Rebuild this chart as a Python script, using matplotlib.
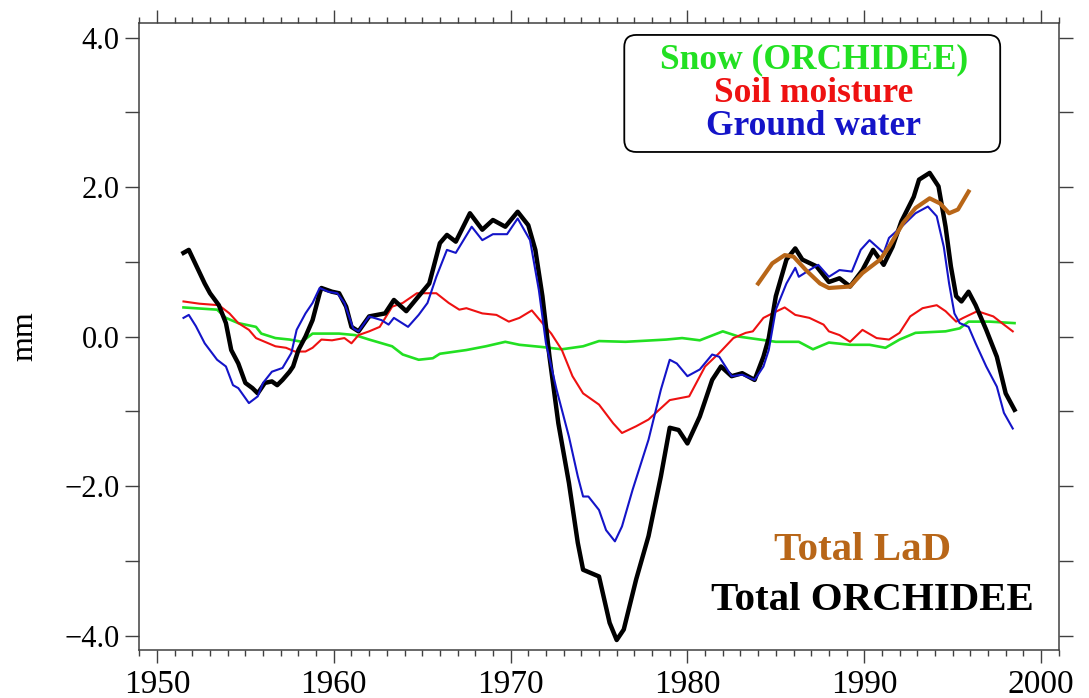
import matplotlib
matplotlib.use("Agg")
import matplotlib.pyplot as plt
from matplotlib.patches import FancyBboxPatch
from matplotlib.transforms import IdentityTransform
from matplotlib.ticker import MultipleLocator, FixedLocator

plt.rcParams['font.family'] = ['Liberation Serif', 'DejaVu Serif']
plt.rcParams['axes.unicode_minus'] = True

# ---------------- data ----------------
total_orchidee_year = [1951.5, 1951.8, 1952.7, 1953.0, 1953.5, 1953.9, 1954.2, 1954.6, 1955.0, 1955.4,
                       1955.7, 1956.1, 1956.5, 1956.8, 1957.1, 1957.5, 1957.7, 1958.0, 1958.4, 1958.8,
                       1959.2, 1959.3, 1959.9, 1960.3, 1960.7, 1961.0, 1961.4, 1962.0, 1962.9, 1963.4,
                       1964.1, 1964.8, 1965.4, 1966.0, 1966.4, 1966.9, 1967.7, 1968.4, 1969.0, 1969.7,
                       1970.4, 1971.0, 1971.4, 1971.8, 1972.2, 1972.7, 1973.3, 1973.8, 1974.1, 1974.5,
                       1975.0, 1975.6, 1976.0, 1976.4, 1977.1, 1977.8, 1978.5, 1979.0, 1979.5, 1980.0,
                       1980.7, 1981.4, 1981.9, 1982.5, 1983.1, 1983.8, 1984.3, 1984.6, 1985.0, 1985.6,
                       1986.1, 1986.5, 1987.3, 1988.0, 1988.6, 1989.2, 1989.9, 1990.5, 1991.1, 1991.6,
                       1992.1, 1992.8, 1993.1, 1993.7, 1994.2, 1994.6, 1994.9, 1995.2, 1995.5, 1995.9,
                       1996.3, 1996.9, 1997.5, 1998.0, 1998.5]
total_orchidee = [1.12, 1.16, 0.71, 0.58, 0.42, 0.18, -0.18, -0.36, -0.62, -0.69,
                  -0.76, -0.62, -0.60, -0.65, -0.58, -0.47, -0.40, -0.18, 0.00, 0.22,
                  0.58, 0.65, 0.60, 0.58, 0.40, 0.13, 0.07, 0.27, 0.31, 0.49,
                  0.34, 0.54, 0.71, 1.25, 1.36, 1.27, 1.65, 1.43, 1.56, 1.47,
                  1.67, 1.49, 1.16, 0.54, -0.27, -1.16, -1.96, -2.76, -3.12, -3.16,
                  -3.21, -3.83, -4.06, -3.92, -3.25, -2.67, -1.87, -1.22, -1.25, -1.43,
                  -1.07, -0.58, -0.40, -0.53, -0.49, -0.58, -0.27, -0.02, 0.54, 1.03,
                  1.18, 1.03, 0.94, 0.73, 0.78, 0.67, 0.89, 1.16, 0.96, 1.20,
                  1.54, 1.87, 2.10, 2.19, 2.01, 1.47, 0.94, 0.54, 0.47, 0.60,
                  0.42, 0.09, -0.27, -0.76, -0.98]

ground_water_year = [1951.5, 1951.8, 1952.2, 1952.7, 1953.4, 1953.9, 1954.3, 1954.6, 1955.2, 1955.7,
                     1956.0, 1956.5, 1957.1, 1957.6, 1957.9, 1958.4, 1958.8, 1959.2, 1959.7, 1960.2,
                     1960.6, 1961.1, 1961.4, 1962.0, 1962.7, 1963.1, 1963.4, 1964.2, 1964.8, 1965.3,
                     1965.8, 1966.4, 1966.9, 1967.8, 1968.4, 1969.0, 1969.8, 1970.4, 1971.1, 1971.6,
                     1972.0, 1972.6, 1973.3, 1973.8, 1974.1, 1974.4, 1975.0, 1975.4, 1975.9, 1976.3,
                     1976.9, 1977.8, 1978.5, 1979.0, 1979.4, 1980.0, 1980.7, 1981.4, 1981.8, 1982.5,
                     1983.1, 1983.8, 1984.3, 1984.6, 1985.0, 1985.6, 1986.1, 1986.3, 1986.9, 1987.4,
                     1988.0, 1988.6, 1989.3, 1989.8, 1990.3, 1991.1, 1991.4, 1992.2, 1992.9, 1993.6,
                     1994.1, 1994.5, 1994.8, 1995.1, 1995.4, 1995.9, 1996.3, 1996.9, 1997.5, 1997.9,
                     1998.4]
ground_water = [0.25, 0.29, 0.14, -0.09, -0.31, -0.40, -0.65, -0.69, -0.89, -0.80,
                -0.62, -0.47, -0.42, -0.22, 0.09, 0.31, 0.45, 0.65, 0.60, 0.58,
                0.45, 0.11, 0.07, 0.27, 0.22, 0.16, 0.25, 0.13, 0.29, 0.45,
                0.80, 1.16, 1.12, 1.47, 1.29, 1.37, 1.37, 1.58, 1.29, 0.62,
                -0.09, -0.71, -1.34, -1.87, -2.14, -2.14, -2.32, -2.59, -2.74, -2.54,
                -2.05, -1.38, -0.71, -0.31, -0.36, -0.53, -0.44, -0.24, -0.27, -0.53,
                -0.51, -0.58, -0.40, -0.18, 0.36, 0.71, 0.92, 0.80, 0.89, 0.96,
                0.80, 0.89, 0.87, 1.16, 1.29, 1.12, 1.32, 1.49, 1.65, 1.74,
                1.61, 1.20, 0.71, 0.31, 0.18, 0.13, -0.09, -0.40, -0.67, -1.02,
                -1.23]

soil_moisture_year = [1951.5, 1952.4, 1953.5, 1954.1, 1954.6, 1955.2, 1955.6, 1956.1, 1956.7, 1957.3,
                      1957.8, 1958.4, 1958.8, 1959.3, 1959.9, 1960.6, 1961.0, 1961.4, 1962.0, 1962.6,
                      1963.3, 1963.9, 1964.7, 1965.8, 1966.5, 1967.1, 1967.5, 1968.4, 1969.2, 1969.9,
                      1970.5, 1971.2, 1971.8, 1972.3, 1972.9, 1973.5, 1974.1, 1975.0, 1975.8, 1976.3,
                      1977.1, 1977.8, 1979.0, 1980.1, 1981.0, 1981.8, 1982.6, 1983.3, 1983.7, 1984.3,
                      1984.8, 1985.5, 1986.1, 1986.9, 1987.7, 1988.0, 1988.6, 1989.2, 1989.9, 1990.7,
                      1991.4, 1992.0, 1992.6, 1993.3, 1994.1, 1994.6, 1995.2, 1995.6, 1996.4, 1997.3,
                      1997.9, 1998.4]
soil_moisture = [0.47, 0.44, 0.42, 0.31, 0.18, 0.09, -0.02, -0.07, -0.13, -0.15,
                 -0.20, -0.20, -0.15, -0.04, -0.05, -0.02, -0.09, 0.02, 0.07, 0.13,
                 0.40, 0.45, 0.58, 0.58, 0.45, 0.36, 0.38, 0.31, 0.29, 0.20,
                 0.25, 0.35, 0.18, 0.04, -0.18, -0.53, -0.76, -0.91, -1.16, -1.29,
                 -1.20, -1.11, -0.85, -0.80, -0.40, -0.22, -0.02, 0.05, 0.07, 0.25,
                 0.31, 0.39, 0.29, 0.25, 0.16, 0.07, 0.02, -0.07, 0.09, -0.02,
                 -0.04, 0.05, 0.27, 0.38, 0.42, 0.34, 0.20, 0.25, 0.34, 0.27,
                 0.16, 0.07]

snow_year = [1951.5, 1953.4, 1953.9, 1954.6, 1955.6, 1955.9, 1956.7, 1957.5, 1958.2, 1958.8,
             1960.3, 1961.2, 1962.0, 1963.3, 1963.9, 1964.8, 1965.6, 1966.0, 1967.5, 1968.6,
             1969.7, 1970.5, 1971.8, 1972.9, 1974.1, 1975.0, 1976.5, 1978.8, 1979.7, 1980.7,
             1982.0, 1982.9, 1984.1, 1985.0, 1986.3, 1987.1, 1988.0, 1989.2, 1990.3, 1991.2,
             1992.0, 1992.9, 1994.6, 1995.4, 1995.9, 1997.1, 1998.5]
snow = [0.39, 0.36, 0.25, 0.18, 0.13, 0.04, -0.02, -0.04, -0.07, 0.04,
        0.04, 0.02, -0.04, -0.13, -0.24, -0.31, -0.29, -0.23, -0.18, -0.13,
        -0.07, -0.11, -0.14, -0.17, -0.13, -0.06, -0.07, -0.04, -0.02, -0.05,
        0.07, 0.00, -0.04, -0.07, -0.07, -0.17, -0.08, -0.11, -0.11, -0.15,
        -0.04, 0.05, 0.07, 0.11, 0.20, 0.20, 0.18]

total_lad_year = [1984.0, 1984.8, 1985.5, 1986.0, 1986.7, 1987.5, 1988.0, 1989.2, 1989.9, 1990.9,
                  1991.4, 1992.2, 1992.9, 1993.7, 1994.3, 1994.8, 1995.3, 1995.9]
total_lad = [0.71, 0.98, 1.09, 1.07, 0.89, 0.71, 0.65, 0.67, 0.85, 1.03,
             1.20, 1.52, 1.72, 1.85, 1.78, 1.65, 1.70, 1.94]

legend_labels = ["Snow (ORCHIDEE)", "Soil moisture", "Ground water"]
x_ticks = [1950, 1960, 1970, 1980, 1990, 2000]
y_ticks = [-4.0, -2.0, 0.0, 2.0, 4.0]

# colors
c_snow = "#22e022"
c_soil = "#ee1111"
c_gw = "#1414c8"
c_lad = "#b86618"
c_tot = "#000000"

# ---------------- figure ----------------
fig = plt.figure(figsize=(10.89, 6.98), dpi=100)
ax = fig.add_axes([0.1279, 0.0681, 0.9722 - 0.1279, 0.9675 - 0.0681])

ax.plot(snow_year, snow, color=c_snow, lw=1.9, zorder=3)
ax.plot(soil_moisture_year, soil_moisture, color=c_soil, lw=1.5, zorder=3)
ax.plot(total_orchidee_year, total_orchidee, color=c_tot, lw=3.2, zorder=4)
ax.plot(ground_water_year, ground_water, color=c_gw, lw=1.5, zorder=5)
ax.plot(total_lad_year, total_lad, color=c_lad, lw=3.0, zorder=6)

ax.set_xlim(1949.0, 2001.0)
ax.set_ylim(-4.2, 4.2)

# ticks
ax.xaxis.set_major_locator(FixedLocator(x_ticks))
ax.xaxis.set_minor_locator(MultipleLocator(1))
ax.yaxis.set_major_locator(FixedLocator(y_ticks))
ax.yaxis.set_minor_locator(MultipleLocator(1))
ax.set_xticklabels([str(v) for v in x_ticks])
ax.set_yticklabels([f"{v:.1f}".replace("-", "\u2212") for v in y_ticks])

frame_col = "#404040"
for s in ax.spines.values():
    s.set_color(frame_col)
    s.set_linewidth(1.1)

ax.tick_params(axis='x', which='major', direction='out', length=9.5, width=1.0, color=frame_col,
               top=True, bottom=True, labelsize=24, pad=4)
ax.tick_params(axis='x', which='minor', direction='out', length=4.5, width=1.0, color=frame_col,
               top=True, bottom=True)
ax.tick_params(axis='y', which='both', direction='out', length=10, width=1.0, color=frame_col,
               left=True, right=True, labelsize=22, pad=4)

ax.set_ylabel("mm", fontsize=23, labelpad=18)

# legend box with colored lines of text
fig.canvas.draw()
box_x0, box_x1 = 1976.43, 1997.69
box_y0, box_y1 = 2.47, 4.036
(px0, py0) = ax.transData.transform((box_x0, box_y0))
(px1, py1) = ax.transData.transform((box_x1, box_y1))
box = FancyBboxPatch((px0, py0), px1 - px0, py1 - py0,
                     boxstyle="round,pad=0,rounding_size=12",
                     transform=IdentityTransform(), fill=False,
                     edgecolor="black", linewidth=1.3, zorder=7)
fig.add_artist(box)

legend_colors = [c_snow, c_soil, c_gw]
legend_y = [3.59, 3.144, 2.698]
for lab, col, yy in zip(legend_labels, legend_colors, legend_y):
    ax.text(1987.15, yy, lab, color=col, fontsize=25.5, fontweight='bold',
            ha='center', va='baseline', zorder=8)

ax.text(1989.88, -2.99, "Total LaD", color=c_lad, fontsize=29.5, fontweight='bold',
        ha='center', va='baseline', zorder=8)
ax.text(1990.47, -3.66, "Total ORCHIDEE", color=c_tot, fontsize=29.5, fontweight='bold',
        ha='center', va='baseline', zorder=8)

fig.savefig("out.png", dpi=100)
